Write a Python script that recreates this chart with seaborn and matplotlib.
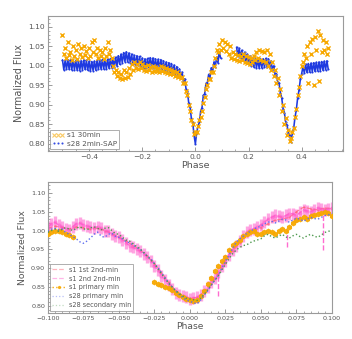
import numpy as np
import pandas as pd
import matplotlib
matplotlib.use("Agg")
import matplotlib.pyplot as plt
from matplotlib.lines import Line2D
from matplotlib.ticker import MultipleLocator
import seaborn as sns

# ---------------- top panel: full phase-folded light curves ----------------
s28_phase = [
    -0.500, -0.495, -0.490, -0.485, -0.480, -0.475, -0.470, -0.465, -0.460, -0.455,
    -0.450, -0.445, -0.440, -0.435, -0.430, -0.425, -0.420, -0.415, -0.410, -0.405,
    -0.400, -0.395, -0.390, -0.385, -0.380, -0.375, -0.370, -0.365, -0.360, -0.355,
    -0.350, -0.345, -0.340, -0.335, -0.330, -0.325, -0.320, -0.315, -0.310, -0.305,
    -0.300, -0.295, -0.290, -0.285, -0.280, -0.275, -0.270, -0.265, -0.260, -0.255,
    -0.250, -0.245, -0.240, -0.235, -0.230, -0.225, -0.220, -0.215, -0.210, -0.205,
    -0.200, -0.195, -0.190, -0.185, -0.180, -0.175, -0.170, -0.165, -0.160, -0.155,
    -0.150, -0.145, -0.140, -0.135, -0.130, -0.125, -0.120, -0.115, -0.110, -0.105,
    -0.100, -0.095, -0.090, -0.085, -0.080, -0.075, -0.070, -0.065, -0.060, -0.055,
    -0.050, -0.045, -0.040, -0.035, -0.030, -0.025, -0.020, -0.015, -0.010, -0.005,
    0.000, 0.005, 0.010, 0.015, 0.020, 0.025, 0.030, 0.035, 0.040, 0.045,
    0.050, 0.055, 0.060, 0.065, 0.070, 0.075, 0.080, 0.085, 0.090, 0.095,
    0.155, 0.160, 0.165, 0.170, 0.175, 0.180, 0.185, 0.190, 0.195, 0.200,
    0.205, 0.210, 0.215, 0.220, 0.225, 0.230, 0.235, 0.240, 0.245, 0.250,
    0.255, 0.260, 0.265, 0.270, 0.275, 0.280, 0.285, 0.290, 0.295, 0.300,
    0.305, 0.310, 0.315, 0.320, 0.325, 0.330, 0.335, 0.340, 0.345, 0.350,
    0.355, 0.360, 0.365, 0.370, 0.375, 0.380, 0.385, 0.390, 0.395, 0.400,
    0.405, 0.410, 0.415, 0.420, 0.425, 0.430, 0.435, 0.440, 0.445, 0.450,
    0.455, 0.460, 0.465, 0.470, 0.475, 0.480, 0.485, 0.490, 0.495, 0.500,
]
s28_flux = [
    1.015, 0.990, 1.014, 0.991, 1.016, 0.991, 1.015, 0.990, 1.013, 0.990,
    1.014, 0.989, 1.012, 0.988, 1.013, 0.990, 1.015, 0.991, 1.014, 0.989,
    1.012, 0.987, 1.011, 0.988, 1.012, 0.989, 1.014, 0.991, 1.015, 0.992,
    1.016, 0.992, 1.015, 0.992, 1.017, 0.994, 1.018, 0.995, 1.020, 0.997,
    1.022, 1.000, 1.026, 1.004, 1.030, 1.008, 1.034, 1.011, 1.036, 1.010,
    1.033, 1.008, 1.030, 1.005, 1.027, 1.002, 1.026, 1.001, 1.024, 0.998,
    1.020, 0.995, 1.018, 0.994, 1.019, 0.996, 1.021, 0.996, 1.020, 0.995,
    1.018, 0.993, 1.017, 0.992, 1.016, 0.990, 1.013, 0.987, 1.010, 0.985,
    1.008, 0.983, 1.006, 0.980, 1.002, 0.977, 0.998, 0.975, 0.992, 0.972,
    0.984, 0.962, 0.967, 0.940, 0.935, 0.905, 0.895, 0.865, 0.855, 0.822,
    0.800, 0.828, 0.846, 0.855, 0.884, 0.893, 0.924, 0.928, 0.955, 0.956,
    0.978, 0.970, 0.995, 0.985, 1.010, 0.998, 1.022, 1.008, 1.036, 1.020,
    1.048, 1.025, 1.045, 1.020, 1.040, 1.015, 1.035, 1.010, 1.030, 1.005,
    1.025, 1.000, 1.020, 0.997, 1.018, 0.995, 1.017, 0.994, 1.017, 0.995,
    1.018, 0.996, 1.019, 0.997, 1.018, 0.995, 1.012, 0.990, 1.000, 0.978,
    0.980, 0.958, 0.955, 0.930, 0.918, 0.890, 0.880, 0.855, 0.848, 0.827,
    0.822, 0.805, 0.828, 0.840, 0.868, 0.888, 0.918, 0.938, 0.965, 0.980,
    0.998, 0.982, 1.004, 0.983, 1.006, 0.984, 1.007, 0.985, 1.008, 0.986,
    1.009, 0.987, 1.010, 0.988, 1.011, 0.989, 1.012, 0.990, 1.013, 0.991,
]
s28_segment = ["a"] * 120 + ["b"] * 70

s1_phase_a = [
    -0.50, -0.49, -0.48, -0.47, -0.46, -0.45, -0.44, -0.43, -0.42, -0.41,
    -0.40, -0.39, -0.38, -0.37, -0.36, -0.35, -0.34, -0.33, -0.32, -0.31,
    -0.30, -0.29, -0.28, -0.27, -0.26, -0.25, -0.24, -0.23, -0.22, -0.21,
    -0.20, -0.19, -0.18, -0.17, -0.16, -0.15, -0.14, -0.13, -0.12, -0.11,
    -0.10, -0.09, -0.08, -0.07, -0.06, -0.05, -0.04, -0.03, -0.02, -0.01,
    0.00, 0.01, 0.02, 0.03, 0.04, 0.05, 0.06, 0.07, 0.08, 0.09,
    0.10, 0.11, 0.12, 0.13, 0.14, 0.15, 0.16, 0.17, 0.18, 0.19,
    0.20, 0.21, 0.22, 0.23, 0.24, 0.25, 0.26, 0.27, 0.28, 0.29,
    0.30, 0.31, 0.32, 0.33, 0.34, 0.35, 0.36, 0.37, 0.38, 0.39,
    0.40, 0.41, 0.42, 0.43, 0.44, 0.45, 0.46, 0.47, 0.48, 0.49, 0.50,
]
s1_flux_a = [
    1.080, 1.045, 1.060, 1.035, 1.050, 1.040, 1.055, 1.045, 1.050, 1.038,
    1.045, 1.060, 1.065, 1.045, 1.040, 1.035, 1.045, 1.060, 1.040, 1.000,
    0.990, 0.985, 0.980, 0.990, 0.985, 0.995, 1.005, 1.010, 1.005, 1.010,
    1.005, 1.000, 1.002, 0.998, 1.000, 0.998, 0.995, 1.000, 0.996, 0.994,
    0.992, 0.990, 0.988, 0.985, 0.980, 0.972, 0.955, 0.925, 0.885, 0.850,
    0.830, 0.845, 0.870, 0.905, 0.940, 0.965, 0.985, 1.000, 1.040, 1.055,
    1.065, 1.060, 1.055, 1.050, 1.035, 1.030, 1.028, 1.025, 1.030, 1.025,
    1.022, 1.020, 1.025, 1.035, 1.040, 1.038, 1.035, 1.040, 1.030, 1.010,
    0.990, 0.970, 0.940, 0.900, 0.865, 0.835, 0.815, 0.840, 0.890, 0.945,
    1.000, 1.030, 1.050, 1.060, 1.070, 1.075, 1.090, 1.080, 1.065, 1.060, 1.045,
]
s1_phase_b = [
    -0.495, -0.485, -0.475, -0.465, -0.455, -0.445, -0.435, -0.425, -0.415, -0.405,
    -0.395, -0.385, -0.375, -0.365, -0.355, -0.345, -0.335, -0.325, -0.315, -0.305,
    -0.295, -0.285, -0.275, -0.265, -0.255, -0.245, -0.235, -0.225, -0.215, -0.205,
    -0.195, -0.185, -0.175, -0.165, -0.155, -0.145, -0.135, -0.125, -0.115, -0.105,
    -0.095, -0.085, -0.075, -0.065, -0.055, -0.045, -0.035, -0.025, -0.015, -0.005,
    0.005, 0.015, 0.025, 0.035, 0.045, 0.055, 0.065, 0.075, 0.085, 0.095,
    0.105, 0.115, 0.125, 0.135, 0.145, 0.155, 0.165, 0.175, 0.185, 0.195,
    0.205, 0.215, 0.225, 0.235, 0.245, 0.255, 0.265, 0.275, 0.285, 0.295,
    0.305, 0.315, 0.325, 0.335, 0.345, 0.355, 0.365, 0.375, 0.385, 0.395,
    0.405, 0.415, 0.425, 0.435, 0.445, 0.455, 0.465, 0.475, 0.485, 0.495,
]
s1_flux_b = [
    1.030, 1.020, 1.028, 1.015, 1.025, 1.018, 1.030, 1.022, 1.028, 1.020,
    1.025, 1.035, 1.030, 1.020, 1.025, 1.018, 1.025, 1.030, 1.020, 0.985,
    0.975, 0.968, 0.965, 0.970, 0.972, 0.978, 0.990, 0.995, 0.992, 0.995,
    0.990, 0.988, 0.990, 0.985, 0.988, 0.986, 0.985, 0.988, 0.984, 0.982,
    0.980, 0.978, 0.975, 0.972, 0.968, 0.955, 0.935, 0.900, 0.860, 0.825,
    0.830, 0.860, 0.885, 0.920, 0.950, 0.965, 0.985, 1.020, 1.035, 1.040,
    1.045, 1.038, 1.030, 1.020, 1.018, 1.015, 1.012, 1.015, 1.010, 1.008,
    1.005, 1.010, 1.015, 1.020, 1.015, 1.012, 1.010, 1.000, 0.990, 0.975,
    0.955, 0.925, 0.885, 0.850, 0.822, 0.808, 0.830, 0.870, 0.925, 0.975,
    1.010, 1.020, 0.955, 1.030, 0.950, 1.040, 0.960, 1.035, 1.040, 1.030,
]

# ---------------- bottom panel: eclipse minima comparison ----------------
b_phase = [
    -0.1000, -0.0975, -0.0950, -0.0925, -0.0900, -0.0875, -0.0850, -0.0825, -0.0800, -0.0775,
    -0.0750, -0.0725, -0.0700, -0.0675, -0.0650, -0.0625, -0.0600, -0.0575, -0.0550, -0.0525,
    -0.0500, -0.0475, -0.0450, -0.0425, -0.0400, -0.0375, -0.0350, -0.0325, -0.0300, -0.0275,
    -0.0250, -0.0225, -0.0200, -0.0175, -0.0150, -0.0125, -0.0100, -0.0075, -0.0050, -0.0025,
    0.0000, 0.0025, 0.0050, 0.0075, 0.0100, 0.0125, 0.0150, 0.0175, 0.0200, 0.0225,
    0.0250, 0.0275, 0.0300, 0.0325, 0.0350, 0.0375, 0.0400, 0.0425, 0.0450, 0.0475,
    0.0500, 0.0525, 0.0550, 0.0575, 0.0600, 0.0625, 0.0650, 0.0675, 0.0700, 0.0725,
    0.0750, 0.0775, 0.0800, 0.0825, 0.0850, 0.0875, 0.0900, 0.0925, 0.0950, 0.0975, 0.1000,
]
s28_primary = [
    0.998, 1.004, 1.006, 1.002, 1.004, 0.995, 0.990, 0.984, 0.978, 0.970,
    0.966, 0.972, 0.980, 0.990, 0.996, 0.985, 0.982, 0.990, 0.993, 0.985,
    0.982, 0.978, 0.970, 0.968, 0.962, 0.955, 0.950, 0.940, 0.932, 0.925,
    0.912, 0.902, 0.888, 0.875, 0.862, 0.850, 0.840, 0.830, 0.822, 0.815,
    0.812, 0.808, 0.805, 0.815, 0.828, 0.840, 0.855, 0.868, 0.880, 0.900,
    0.918, 0.935, 0.952, 0.968, 0.978, 0.985, 0.992, 0.998, 1.004, 1.008,
    1.012, 1.018, 1.022, 1.025, 1.020, 1.025, 1.030, 1.028, 1.022, 1.028,
    1.033, 1.030, 1.025, 1.030, 1.035, 1.032, 1.030, 1.035, 1.040, 1.042, 1.045,
]
s28_secondary = [
    0.995, 1.000, 1.004, 0.998, 1.003, 1.008, 1.004, 1.000, 1.006, 1.010,
    1.005, 1.002, 1.007, 1.010, 1.006, 1.002, 1.006, 1.008, 1.000, 0.992,
    0.990, 0.982, 0.975, 0.972, 0.965, 0.957, 0.952, 0.942, 0.932, 0.922,
    0.912, 0.898, 0.885, 0.872, 0.860, 0.850, 0.840, 0.832, 0.826, 0.820,
    0.818, 0.816, 0.814, 0.820, 0.830, 0.842, 0.855, 0.868, 0.880, 0.895,
    0.910, 0.925, 0.938, 0.948, 0.955, 0.960, 0.962, 0.968, 0.972, 0.975,
    0.978, 0.986, 0.990, 0.984, 0.980, 0.985, 0.990, 0.983, 0.980, 0.986,
    0.990, 0.984, 0.980, 0.986, 0.990, 0.985, 0.982, 0.988, 0.995, 0.998, 1.000,
]
s1_2nd_2nd = [
    1.010, 1.018, 1.022, 1.015, 1.010, 1.005, 1.002, 1.010, 1.018, 1.020,
    1.015, 1.012, 1.010, 1.008, 1.010, 1.006, 1.000, 0.998, 0.990, 0.985,
    0.982, 0.975, 0.968, 0.960, 0.955, 0.950, 0.945, 0.938, 0.930, 0.920,
    0.905, 0.895, 0.880, 0.868, 0.855, 0.845, 0.835, 0.828, 0.825, 0.822,
    0.818, 0.820, 0.822, 0.828, 0.838, 0.850, 0.862, 0.875, 0.890, 0.905,
    0.920, 0.935, 0.948, 0.960, 0.972, 0.985, 0.995, 1.002, 1.005, 1.010,
    1.015, 1.022, 1.030, 1.035, 1.040, 1.038, 1.035, 1.040, 1.045, 1.045,
    1.040, 1.048, 1.055, 1.052, 1.050, 1.055, 1.060, 1.058, 1.055, 1.058, 1.060,
]
s1_2nd_2nd_err = 0.016
spike_phase = [0.0195, 0.0685, 0.0935]
spike_high = [0.885, 1.005, 1.060]
spike_low = [0.825, 0.955, 0.948]

s1_1st_phase = [
    -0.100, -0.095, -0.090, -0.085, -0.080, -0.075, -0.070, -0.065, -0.060, -0.055,
    -0.050, -0.045, -0.040, -0.035, -0.030, -0.025, -0.020, -0.015, -0.010, -0.005,
    0.000, 0.005, 0.010, 0.015, 0.020, 0.025, 0.030, 0.035, 0.040, 0.045,
    0.050, 0.055, 0.060, 0.065, 0.070, 0.075, 0.080, 0.085, 0.090, 0.095, 0.100,
]
s1_1st_2nd = [
    1.005, 1.012, 1.008, 1.004, 1.010, 1.008, 1.004, 1.006, 1.000, 0.992,
    0.982, 0.972, 0.960, 0.948, 0.932, 0.912, 0.888, 0.862, 0.840, 0.826,
    0.820, 0.822, 0.836, 0.858, 0.885, 0.915, 0.945, 0.968, 0.990, 1.000,
    1.008, 1.018, 1.028, 1.030, 1.035, 1.050, 1.062, 1.058, 1.055, 1.060, 1.058,
]

s1_prim_phase = [
    -0.1000, -0.0975, -0.0950, -0.0925, -0.0900, -0.0875, -0.0850, -0.0825,
    -0.0250, -0.0225, -0.0200, -0.0175, -0.0150, -0.0125, -0.0100, -0.0075, -0.0050, -0.0025,
    0.0000, 0.0025, 0.0050, 0.0075, 0.0100, 0.0125, 0.0150, 0.0175, 0.0200, 0.0225,
    0.0250, 0.0275, 0.0300, 0.0325, 0.0350, 0.0375, 0.0400, 0.0425, 0.0450, 0.0475,
    0.0500, 0.0525, 0.0550, 0.0575, 0.0600, 0.0625, 0.0650, 0.0675, 0.0700, 0.0725,
    0.0750, 0.0775, 0.0800, 0.0825, 0.0850, 0.0875, 0.0900, 0.0925, 0.0950, 0.0975, 0.1000,
]
s1_primary = [
    0.990, 0.995, 1.000, 0.998, 0.995, 0.992, 0.988, 0.982,
    0.862, 0.858, 0.855, 0.850, 0.846, 0.842, 0.835, 0.828, 0.822, 0.818,
    0.815, 0.812, 0.815, 0.825, 0.840, 0.858, 0.875, 0.892, 0.905, 0.918,
    0.930, 0.948, 0.962, 0.968, 0.975, 0.985, 0.992, 0.996, 0.998, 0.992,
    0.990, 0.995, 1.000, 0.996, 0.992, 0.998, 1.005, 1.000, 1.010, 1.020,
    1.028, 1.032, 1.035, 1.030, 1.038, 1.042, 1.045, 1.048, 1.050, 1.046, 1.040,
]

y_ticks = [0.80, 0.85, 0.90, 0.95, 1.00, 1.05, 1.10]

# ---------------- styling ----------------
sns.set_style("ticks")
plt.rcParams["font.family"] = ["DejaVu Sans"]
plt.rcParams.update({
    "axes.edgecolor": "#9a9a9a",
    "axes.linewidth": 0.8,
    "xtick.color": "#8a8a8a",
    "ytick.color": "#8a8a8a",
    "xtick.labelcolor": "#555555",
    "ytick.labelcolor": "#555555",
    "axes.labelcolor": "#555555",
    "xtick.direction": "in",
    "ytick.direction": "in",
})

C_BLUE = "#1f3ae0"
C_ORANGE = "#f7a800"
C_PINK = "#ff5ccb"
C_RED = "#ff5a6e"
C_LILAC = "#5f6ef0"
C_GREEN = "#4f9a4f"

fig = plt.figure(figsize=(3.52, 3.39), dpi=100)
ax1 = fig.add_axes([0.136, 0.555, 0.838, 0.398])
ax2 = fig.add_axes([0.136, 0.077, 0.807, 0.386])

# top panel
df28 = pd.DataFrame({"phase": s28_phase, "flux": s28_flux, "seg": s28_segment})
sns.lineplot(data=df28, x="phase", y="flux", units="seg", estimator=None, sort=False,
             color=C_BLUE, lw=1.15, marker=".", markersize=3, markeredgewidth=0,
             ax=ax1, legend=False)
df1 = pd.DataFrame({"phase": s1_phase_a + s1_phase_b, "flux": s1_flux_a + s1_flux_b})
sns.scatterplot(data=df1, x="phase", y="flux", color=C_ORANGE, marker="x", s=9,
                linewidth=1.0, ax=ax1, legend=False, zorder=3)

ax1.set_xlim(-0.555, 0.555)
ax1.set_ylim(0.782, 1.128)
ax1.xaxis.set_major_locator(MultipleLocator(0.2))
ax1.xaxis.set_minor_locator(MultipleLocator(0.05))
ax1.set_yticks(y_ticks)
ax1.set_yticklabels([f"{v:.2f}" for v in y_ticks])
ax1.yaxis.set_minor_locator(MultipleLocator(0.01))
ax1.tick_params(which="major", length=3, width=0.6, labelsize=5.4, pad=2)
ax1.tick_params(which="minor", length=1.6, width=0.5)
ax1.set_xlabel("Phase", fontsize=6.8, labelpad=1)
ax1.set_ylabel("Normalized Flux", fontsize=6.9, labelpad=3)
h_top = [
    Line2D([], [], ls="none", marker="x", ms=2.5, mew=0.8, color=C_ORANGE, alpha=0.6),
    Line2D([], [], ls="none", marker=".", ms=3, mew=0, color=C_BLUE, alpha=0.9),
]
leg1 = ax1.legend(h_top, ["s1 30min", "s28 2min-SAP"], loc="lower left", numpoints=3,
                  fontsize=5.2, frameon=True, fancybox=False, edgecolor="#8a8a8a",
                  borderpad=0.3, handletextpad=0.4, labelspacing=0.3, handlelength=1.6,
                  borderaxespad=0.3)
leg1.get_frame().set_linewidth(0.6)
for t in leg1.get_texts():
    t.set_color("#555555")

# bottom panel
dfb = pd.DataFrame({"phase": b_phase, "prim28": s28_primary, "sec28": s28_secondary,
                    "s1b": s1_2nd_2nd})
ax2.errorbar(dfb["phase"], dfb["s1b"], yerr=s1_2nd_2nd_err, fmt="o", ms=3,
             color=C_PINK, ecolor=C_PINK, elinewidth=2.4, alpha=0.55, mew=0, zorder=2)
sns.lineplot(data=dfb, x="phase", y="s1b", color=C_PINK, lw=1.0, ls="--", alpha=0.85,
             ax=ax2, legend=False, zorder=2)
ax2.vlines(spike_phase, spike_low, spike_high, colors=C_PINK, linestyles="--",
           lw=1.0, alpha=0.9, zorder=2)
dfr = pd.DataFrame({"phase": s1_1st_phase, "flux": s1_1st_2nd})
sns.lineplot(data=dfr, x="phase", y="flux", color=C_RED, lw=0.9, ls="--", alpha=0.7,
             marker=".", ms=3, mew=0, ax=ax2, legend=False, zorder=2)
dfo = pd.DataFrame({"phase": s1_prim_phase, "flux": s1_primary})
sns.scatterplot(data=dfo, x="phase", y="flux", color=C_ORANGE, marker="h", s=18,
                linewidth=0, alpha=0.95, ax=ax2, legend=False, zorder=3)
sns.lineplot(data=dfb, x="phase", y="prim28", color=C_LILAC, lw=1.0, ls=":",
             ax=ax2, legend=False, zorder=4)
sns.lineplot(data=dfb, x="phase", y="sec28", color=C_GREEN, lw=1.0, ls=":",
             ax=ax2, legend=False, zorder=4)

ax2.set_xlim(-0.1, 0.1)
ax2.set_ylim(0.781, 1.129)
ax2.xaxis.set_major_locator(MultipleLocator(0.025))
ax2.xaxis.set_minor_locator(MultipleLocator(0.005))
ax2.set_yticks(y_ticks)
ax2.set_yticklabels([f"{v:.2f}" for v in y_ticks])
ax2.yaxis.set_minor_locator(MultipleLocator(0.01))
ax2.tick_params(which="major", length=3, width=0.6, labelsize=4.6, pad=2)
ax2.tick_params(which="minor", length=1.6, width=0.5)
ax2.set_xlabel("Phase", fontsize=6.6, labelpad=1)
ax2.set_ylabel("Normalized Flux", fontsize=6.7, labelpad=3)
h_bot = [
    Line2D([], [], color=C_RED, ls="--", lw=0.9, alpha=0.45),
    Line2D([], [], color=C_PINK, ls="--", lw=0.9, alpha=0.45),
    Line2D([], [], color=C_ORANGE, ls=":", lw=1.0, marker="h", ms=2.5, mew=0, alpha=0.9),
    Line2D([], [], color=C_LILAC, ls=":", lw=0.9, alpha=0.45),
    Line2D([], [], color=C_GREEN, ls=":", lw=0.9, alpha=0.35),
]
leg2 = ax2.legend(h_bot, ["s1 1st 2nd-min", "s1 2nd 2nd-min", "s1 primary min",
                          "s28 primary min", "s28 secondary min"],
                  loc="lower left", fontsize=4.7, frameon=True, fancybox=False,
                  edgecolor="#8a8a8a", borderpad=0.35, handletextpad=0.5,
                  labelspacing=0.45, handlelength=2.0, borderaxespad=0.35)
leg2.get_frame().set_linewidth(0.6)
for t in leg2.get_texts():
    t.set_color("#555555")

fig.savefig("out.png", dpi=100)
